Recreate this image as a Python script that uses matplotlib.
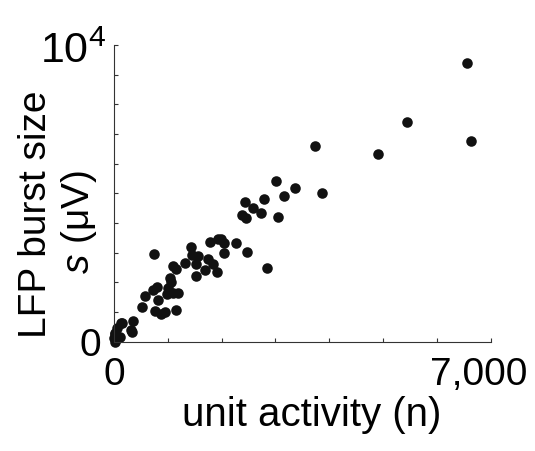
import matplotlib.pyplot as plt
import matplotlib.transforms as mtransforms

# unit activity (n) vs LFP burst size (uV)
unit_activity = [6555, 5452, 6636, 4913, 3742, 3860, 3011, 3364, 3166, 3055,
                 2788, 2441, 2590, 2739, 2373, 2447, 2472, 2838, 2261, 1995,
                 1927, 2051, 2045, 1784, 1431, 1568, 1444, 1753, 1846, 1914,
                 1685, 1524, 1518, 1320, 1152, 1097, 743, 1041, 1059, 1010,
                 1196, 1090, 980, 799, 731, 824, 582, 514, 756, 880,
                 948, 1152, 359, 328, 143, 50, 19, 112, 19, 0,
                 13, 74, 130, 316]
burst_size = [9382, 7416, 6775, 6315, 6607, 5011, 5404, 5169, 4899, 4191,
              4798, 4708, 4517, 4348, 4270, 4180, 3034, 2483, 3315, 3449,
              3461, 3315, 2989, 3348, 3180, 2888, 2910, 2798, 2618, 2348,
              2427, 2607, 2225, 2640, 2438, 2539, 2966, 2135, 2000, 1820,
              1640, 1640, 1596, 1843, 1742, 1404, 1551, 1169, 1034, 921,
              1011, 1067, 708, 315, 618, 472, 258, 146, 0, 112,
              283, 125, 630, 394]

xticks = list(range(0, 7001, 1000))
yticks = list(range(0, 10001, 1000))
xticklabels = ['0'] + [''] * 6 + ['7,000']
yticklabels = ['0'] + [''] * 9 + ['10$^4$']

plt.rcParams['font.family'] = ['Liberation Sans', 'DejaVu Sans']
plt.rcParams['mathtext.fontset'] = 'custom'
plt.rcParams['mathtext.rm'] = 'Liberation Sans'
plt.rcParams['mathtext.it'] = 'Liberation Sans:italic'

fig = plt.figure(figsize=(5.35, 4.51), dpi=100)
ax = fig.add_axes([0.2131, 0.2424, 0.7041, 0.6578])

ax.plot(unit_activity, burst_size, 'o', color='#111111', markersize=7.6,
        markeredgewidth=0, clip_on=False)

ax.set_xlim(0, 7000)
ax.set_ylim(0, 10000)
ax.set_xticks(xticks)
ax.set_xticklabels(xticklabels)
ax.set_yticks(yticks)
ax.set_yticklabels(yticklabels)

for side in ['top', 'right']:
    ax.spines[side].set_visible(False)
for side in ['left', 'bottom']:
    ax.spines[side].set_linewidth(0.8)
    ax.spines[side].set_color('#333333')

ax.tick_params(direction='in', length=3, width=0.8, color='#333333',
               labelsize=28)
ax.tick_params(axis='x', pad=11)
ax.tick_params(axis='y', pad=9)

# last x label sits left of its tick, 10^4 is bigger
lab = ax.get_xticklabels()[-1]
lab.set_transform(lab.get_transform() +
                  mtransforms.ScaledTranslation(-0.12, 0, fig.dpi_scale_trans))
top = ax.get_yticklabels()[-1]
top.set_fontsize(31)
top.set_transform(top.get_transform() +
                  mtransforms.ScaledTranslation(0.05, -0.02, fig.dpi_scale_trans))

ax.set_xlabel('unit activity (n)', fontsize=29)
ax.xaxis.set_label_coords(0.524, -0.183)

# y label as two rotated lines
fig.text(36 / 535, 1 - 214 / 451, 'LFP burst size', fontsize=28,
         rotation=90, ha='center', va='center')
fig.text(79 / 535, 1 - 222 / 451, '$s$ (\u03bcV)', fontsize=28,
         rotation=90, ha='center', va='center')

fig.savefig('out.png', dpi=100)
